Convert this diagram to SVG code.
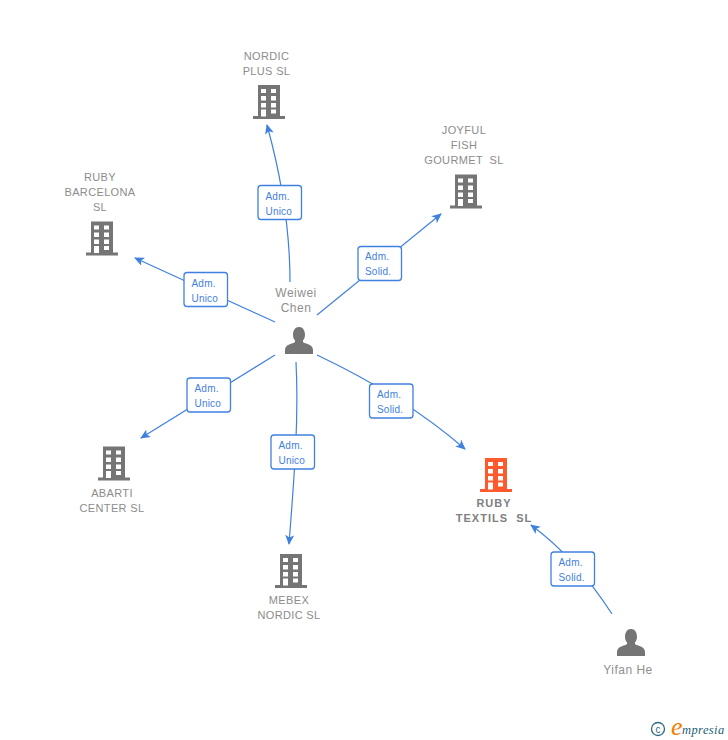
<svg xmlns="http://www.w3.org/2000/svg" width="728" height="740" viewBox="0 0 728 740">
<style>
.n{font:11px "Liberation Sans",Arial,sans-serif;fill:#8c8c8c;text-anchor:middle;letter-spacing:.35px}
.s{font-weight:bold;letter-spacing:1px;fill:#808080}
.p{font:12px "Liberation Sans",Arial,sans-serif;fill:#8f8f8f;text-anchor:middle;letter-spacing:.5px}
.l{font:10px "Liberation Sans",Arial,sans-serif;fill:#3f80e0;letter-spacing:.2px}
.c{fill:none;stroke:#3f80e0;stroke-width:1.2}
.b{fill:#fff;stroke:#3f80e0;stroke-width:1.3}
.w{fill:#fff}
</style>
<defs>
<marker id="a" markerWidth="11" markerHeight="10" refX="9" refY="4.5" orient="auto" markerUnits="userSpaceOnUse"><path d="M0 0L10 4.5L0 9L2.500 4.500Z" fill="#3f80e0"/></marker>
<g id="bld"><path d="M-11-17H11V14H16V17H-16V14H-11Z"/>
<g class="w"><rect x="-8" y="-13" width="5" height="4"/><rect x="2" y="-13" width="5" height="4"/><rect x="-8" y="-6" width="5" height="4.500"/><rect x="2" y="-6" width="5" height="4.500"/><rect x="-8" y="1" width="5" height="4.500"/><rect x="2" y="1" width="5" height="4.500"/><rect x="-8" y="7.500" width="5" height="7"/><rect x="2" y="7.500" width="5" height="4"/></g></g>
<path id="per" d="M0-14C-5-14-6-9-6-6C-6-3-4.500-1-4-.5V1C-6 3-14 3-14 9V13H14V9C14 3 6 3 4 1V-.5C4.500-1 6-3 6-6C6-9 5-14 0-14Z"/>
</defs>
<g id="connectors">
<path class="c" d="M290 282C290 240 285 190 267 125" marker-end="url(#a)"/>
<path class="c" d="M317 315L441 214" marker-end="url(#a)"/>
<path class="c" d="M275 322L135 258" marker-end="url(#a)"/>
<path class="c" d="M275 355L141 438" marker-end="url(#a)"/>
<path class="c" d="M296 362C299 420 294 480 289 544" marker-end="url(#a)"/>
<path class="c" d="M317 355C370 380 420 410 465 449" marker-end="url(#a)"/>
<path class="c" d="M612 614C590 580 565 550 531 525" marker-end="url(#a)"/>
</g>
<g id="edge-labels">
<rect class="b" x="258" y="185.500" width="43.500" height="34" rx="3"/><text class="l" x="265.500" y="199.500">Adm.</text><text class="l" x="265.500" y="214.500">Unico</text>
<rect class="b" x="358" y="246.500" width="43.500" height="34" rx="3"/><text class="l" x="365" y="259.500">Adm.</text><text class="l" x="365" y="274.500">Solid.</text>
<rect class="b" x="184" y="272.500" width="43.500" height="34" rx="3"/><text class="l" x="191.500" y="286.500">Adm.</text><text class="l" x="191.500" y="301.500">Unico</text>
<rect class="b" x="187" y="378" width="43.500" height="34" rx="3"/><text class="l" x="194.500" y="391.500">Adm.</text><text class="l" x="194.500" y="406.500">Unico</text>
<rect class="b" x="271" y="435" width="43.500" height="34" rx="3"/><text class="l" x="278.500" y="448.500">Adm.</text><text class="l" x="278.500" y="463.500">Unico</text>
<rect class="b" x="369.500" y="384" width="43.500" height="34" rx="3"/><text class="l" x="377" y="397.500">Adm.</text><text class="l" x="377" y="412.500">Solid.</text>
<rect class="b" x="551" y="552" width="43.500" height="34" rx="3"/><text class="l" x="558.500" y="565.500">Adm.</text><text class="l" x="558.500" y="580.500">Solid.</text>
</g>
<g id="nordic-plus"><text class="n" x="266.500" y="60">NORDIC</text><text class="n" x="266.500" y="75">PLUS SL</text><use href="#bld" x="269" y="102" fill="#757575"/></g>
<g id="joyful"><text class="n" x="464" y="134">JOYFUL</text><text class="n" x="464" y="149">FISH</text><text class="n" x="464" y="164" xml:space="preserve">GOURMET  SL</text><use href="#bld" x="466" y="191.500" fill="#757575"/></g>
<g id="ruby-barcelona"><text class="n" x="100" y="181">RUBY</text><text class="n" x="100" y="196">BARCELONA</text><text class="n" x="100" y="211">SL</text><use href="#bld" x="102" y="238.500" fill="#757575"/></g>
<g id="abarti"><use href="#bld" x="114" y="463.500" fill="#757575"/><text class="n" x="112" y="497">ABARTI</text><text class="n" x="112" y="512">CENTER SL</text></g>
<g id="mebex"><use href="#bld" x="291" y="571" fill="#757575"/><text class="n" x="289" y="604">MEBEX</text><text class="n" x="289" y="619">NORDIC SL</text></g>
<g id="ruby-textils"><use href="#bld" x="496" y="475" fill="#ff5a2e"/><text class="n s" x="494" y="507">RUBY</text><text class="n s" x="494" y="522" xml:space="preserve">TEXTILS  SL</text></g>
<g id="weiwei"><text class="p" x="296" y="297">Weiwei</text><text class="p" x="296" y="312">Chen</text><use href="#per" x="299" y="341" fill="#757575"/></g>
<g id="yifan"><use href="#per" x="631" y="643" fill="#757575"/><text class="p" x="628" y="674">Yifan He</text></g>
<g id="credit"><circle cx="658" cy="729" r="6.500" fill="none" stroke="#2b6b80" stroke-width="1.300"/><text x="658" y="732.500" font-family="Liberation Sans,sans-serif" font-size="10" fill="#2b6b80" text-anchor="middle">c</text><text x="671" y="735" font-family="Liberation Serif,serif" font-style="italic" font-size="26" fill="#f57c00">e</text><text x="682" y="734" font-family="Liberation Serif,serif" font-style="italic" font-size="12.500" fill="#1d6076" letter-spacing=".4">mpresia</text></g>
</svg>
